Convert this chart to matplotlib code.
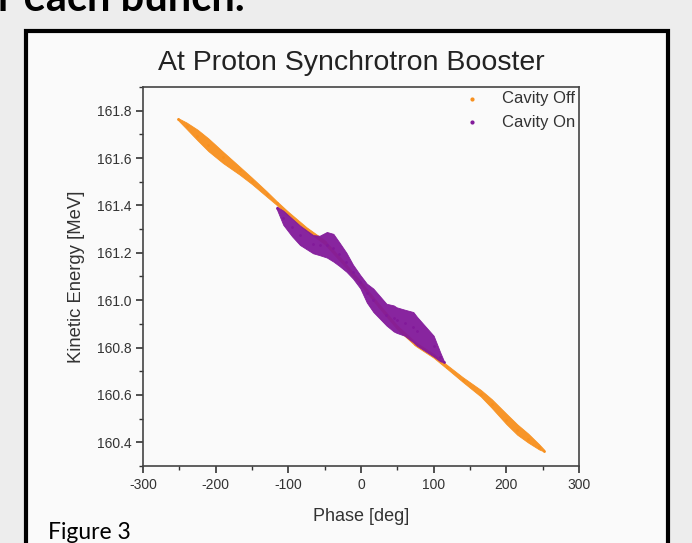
import matplotlib.pyplot as plt
from matplotlib.patches import Rectangle
from matplotlib.ticker import MultipleLocator
import numpy as np

plt.rcParams['font.family'] = ['Liberation Sans', 'DejaVu Sans']
plt.rcParams['axes.unicode_minus'] = False

# Cavity Off band: phase [deg], centre energy [MeV], spread above / below
off_phase = [-252, -240, -225, -210, -190, -167, -150, -130, -116, -100, -75, -50, -25, 0,
             25, 50, 75, 100, 119, 140, 165, 180, 200, 215, 230, 245, 252]
off_center = [161.765, 161.735, 161.695, 161.655, 161.605, 161.55, 161.505, 161.45, 161.41,
              161.365, 161.30, 161.245, 161.16, 161.07, 160.975, 160.885, 160.815, 160.765,
              160.717, 160.665, 160.605, 160.56, 160.495, 160.45, 160.415, 160.38, 160.365]
off_up = [0.004, 0.015, 0.025, 0.028, 0.022, 0.014, 0.012, 0.010, 0.008, 0.008, 0.008, 0.008,
          0.008, 0.008, 0.008, 0.008, 0.008, 0.008, 0.008, 0.010, 0.016, 0.022, 0.026, 0.026,
          0.022, 0.012, 0.004]
off_down = [0.004, 0.012, 0.020, 0.026, 0.026, 0.020, 0.015, 0.012, 0.008, 0.008, 0.008, 0.008,
            0.008, 0.008, 0.008, 0.008, 0.008, 0.008, 0.008, 0.010, 0.012, 0.015, 0.018, 0.018,
            0.016, 0.010, 0.004]

# Cavity On band: phase [deg], upper and lower edge energy [MeV]
on_phase = [-116, -107, -95, -84, -66, -57, -47, -38, -30, -20, -11, -1, 8, 17, 35, 45, 49, 60,
            72, 77, 100, 109, 114]
on_upper = [161.395, 161.378, 161.345, 161.315, 161.275, 161.272, 161.288, 161.28, 161.245,
            161.20, 161.15, 161.106, 161.07, 161.049, 160.985, 160.978, 160.97, 160.96, 160.95,
            160.93, 160.85, 160.78, 160.744]
on_lower = [161.385, 161.318, 161.27, 161.233, 161.198, 161.19, 161.18, 161.163, 161.145,
            161.12, 161.091, 161.05, 160.99, 160.95, 160.893, 160.868, 160.862, 160.85, 160.822,
            160.808, 160.762, 160.742, 160.738]

orange = '#f7901e'
purple = '#82199a'

fig = plt.figure(figsize=(6.92, 5.43), dpi=100, facecolor='#ededed')
W, H = 692, 543

# slide frame
fig.add_artist(Rectangle((26 / W, -0.05), (668 - 26) / W, (543 - 31) / H + 0.05,
                         transform=fig.transFigure, facecolor='#fafafa',
                         edgecolor='black', linewidth=3.0, zorder=-5))
fig.text(-2 / W, 1 - 11 / H, 'r each bunch.', fontsize=30, fontweight='bold',
         family=['Lato', 'DejaVu Sans'], va='baseline', ha='left')
fig.text(48 / W, 1 - 539 / H, 'Figure 3', fontsize=16.5, family=['Lato', 'DejaVu Sans'],
         va='baseline', ha='left')

ax = fig.add_axes([143 / W, 1 - 466 / H, (579 - 143) / W, (466 - 87) / H])
ax.set_zorder(2)
ax.set_facecolor('none')

op = np.array(off_phase)
oc = np.array(off_center)
ax.fill_between(op, oc - np.array(off_down), oc + np.array(off_up), color=orange,
                linewidth=0.6, alpha=0.95)
ax.scatter(op, oc, s=1, color=orange, label='Cavity Off')

ax.fill_between(on_phase, on_lower, on_upper, color=purple, linewidth=0.6, alpha=0.95)
ax.scatter(on_phase, (np.array(on_upper) + np.array(on_lower)) / 2, s=1, color=purple,
           label='Cavity On')

ax.set_xlim(-300, 300)
ax.set_ylim(160.3, 161.9)
ax.xaxis.set_major_locator(MultipleLocator(100))
ax.xaxis.set_minor_locator(MultipleLocator(50))
ax.yaxis.set_major_locator(MultipleLocator(0.2))
ax.yaxis.set_minor_locator(MultipleLocator(0.1))
ax.yaxis.set_major_formatter(plt.FormatStrFormatter('%.1f'))
ax.tick_params(which='major', length=5, width=1.2, color='#333333', labelsize=10,
               labelcolor='#333333')
ax.tick_params(which='minor', length=3, width=1.0, color='#333333')
for s in ax.spines.values():
    s.set_color('#444444')
    s.set_linewidth(1.2)

ax.set_xlabel('Phase [deg]', fontsize=13, color='#333333', labelpad=12)
ax.set_ylabel('Kinetic Energy [MeV]', fontsize=13.3, color='#333333', labelpad=8)
ax.set_title('At Proton Synchrotron Booster', fontsize=20.5, color='#222222', pad=12, x=0.478)

leg = ax.legend(loc='upper right', frameon=False, fontsize=12, markerscale=2,
                handlelength=1.0, handletextpad=1.3, borderaxespad=0.1, labelspacing=0.5,
                borderpad=0.15)
for t in leg.get_texts():
    t.set_color('#333333')

fig.savefig('out.png', dpi=100, facecolor=fig.get_facecolor())
